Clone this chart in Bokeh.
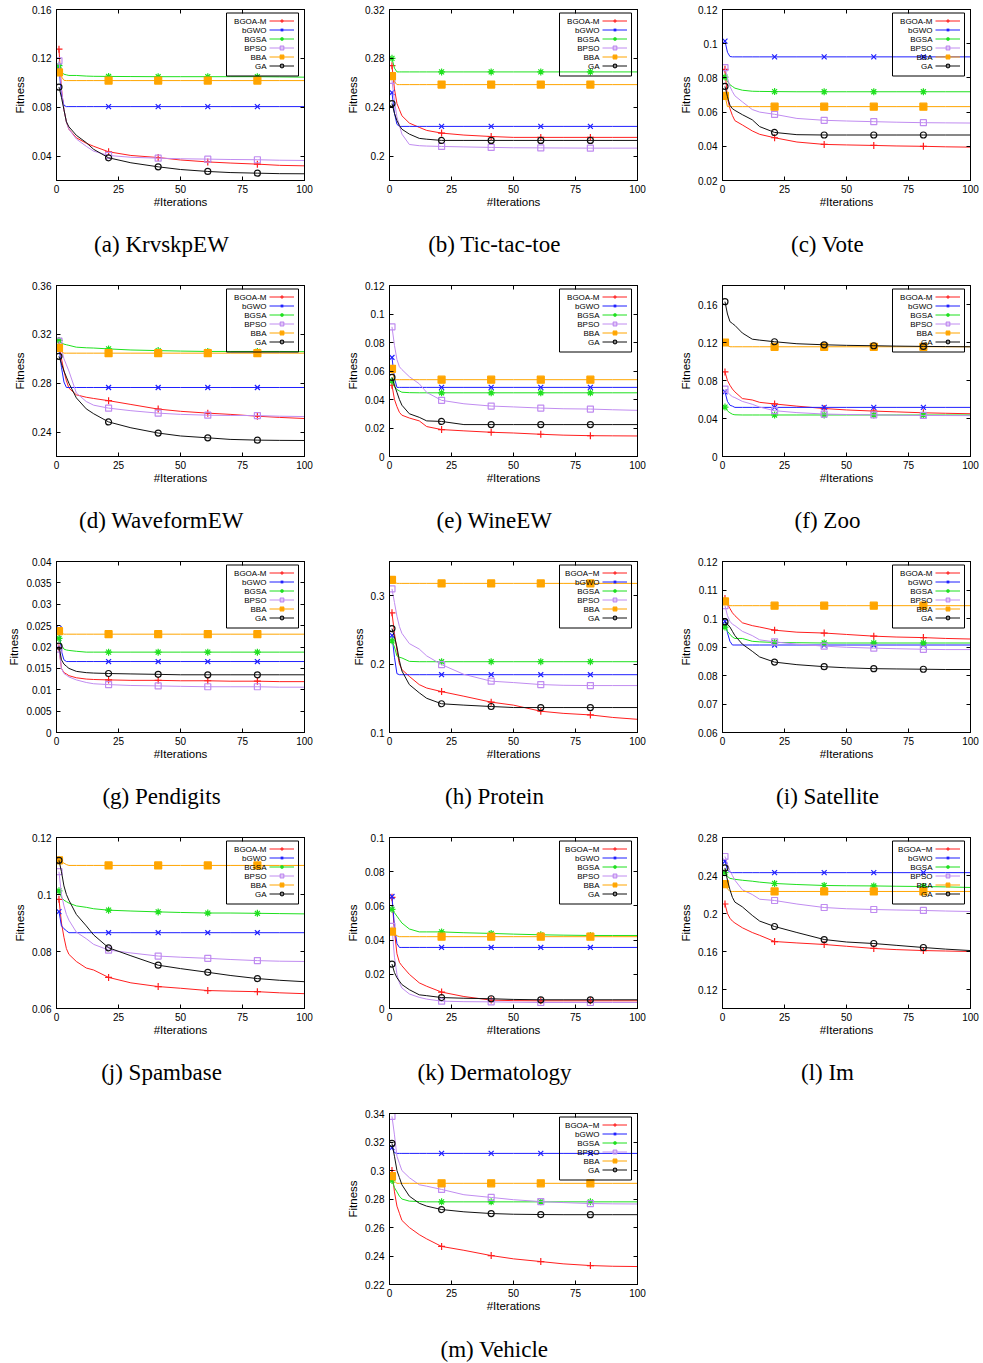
from bokeh.plotting import figure
from bokeh.models import (Range1d, FixedTicker, LinearAxis, Label, BoxAnnotation,
                          Legend, LegendItem, CustomJSTickFormatter, Spacer)
from bokeh.layouts import column, row
from bokeh.core.properties import value
from bokeh.embed import file_html
from bokeh.resources import INLINE

# ---------------- data ----------------
ITER = [1, 2, 3, 4, 5, 8, 12, 15, 21, 30, 41, 50, 61, 70, 81, 90, 100]
MARK_ITER = [1, 21, 41, 61, 81]
X_TICKS = [0, 25, 50, 75, 100]
SERIES = ["BGOA-M", "bGWO", "BGSA", "BPSO", "BBA", "GA"]
SERIES_ALT = ["BGOA\u2212M", "bGWO", "BGSA", "BPSO", "BBA", "GA"]

# (a) KrvskpEW
KRV_BGOA_M = [0.1275, 0.095, 0.078, 0.068, 0.062, 0.055, 0.0505, 0.048, 0.0435, 0.0405, 0.0388, 0.0368, 0.0352, 0.0343, 0.0334, 0.0324, 0.0320]
KRV_BGWO = [0.113, 0.090, 0.0815, 0.0805, 0.0805, 0.0805, 0.0805, 0.0805, 0.0805, 0.0805, 0.0805, 0.0805, 0.0805, 0.0805, 0.0805, 0.0805, 0.0805]
KRV_BGSA = [0.114, 0.109, 0.107, 0.1065, 0.106, 0.106, 0.1055, 0.1053, 0.1052, 0.1051, 0.105, 0.105, 0.105, 0.105, 0.105, 0.1048, 0.1046]
KRV_BPSO = [0.118, 0.095, 0.078, 0.068, 0.062, 0.054, 0.048, 0.044, 0.0405, 0.039, 0.0383, 0.0378, 0.0375, 0.0372, 0.037, 0.0366, 0.0364]
KRV_BBA = [0.1085, 0.105, 0.102, 0.1018, 0.1018, 0.1018, 0.1018, 0.1018, 0.1018, 0.1018, 0.1018, 0.1018, 0.1018, 0.1018, 0.1018, 0.1018, 0.1018]
KRV_GA = [0.0965, 0.088, 0.078, 0.068, 0.064, 0.057, 0.051, 0.0455, 0.0386, 0.0345, 0.0312, 0.029, 0.0274, 0.0265, 0.026, 0.0256, 0.0255]

# (b) Tic-tac-toe
TIC_BGOA_M = [0.274, 0.255, 0.243, 0.238, 0.233, 0.227, 0.2235, 0.221, 0.2188, 0.2172, 0.216, 0.2153, 0.2153, 0.2153, 0.2153, 0.2153, 0.2153]
TIC_BGWO = [0.252, 0.235, 0.226, 0.2243, 0.2243, 0.2243, 0.2243, 0.2243, 0.2243, 0.2243, 0.2243, 0.2243, 0.2243, 0.2243, 0.2243, 0.2243, 0.2243]
TIC_BGSA = [0.280, 0.272, 0.2689, 0.2689, 0.2689, 0.2689, 0.2689, 0.2689, 0.2689, 0.2689, 0.2689, 0.2689, 0.2689, 0.2689, 0.2689, 0.2689, 0.2689]
TIC_BPSO = [0.262, 0.245, 0.232, 0.225, 0.218, 0.2095, 0.2085, 0.2082, 0.2079, 0.2075, 0.2071, 0.2068, 0.2067, 0.2066, 0.2065, 0.2065, 0.2065]
TIC_BBA = [0.2655, 0.261, 0.2585, 0.2585, 0.2585, 0.2585, 0.2585, 0.2585, 0.2585, 0.2585, 0.2585, 0.2585, 0.2585, 0.2585, 0.2585, 0.2585, 0.2585]
TIC_GA = [0.243, 0.235, 0.229, 0.225, 0.222, 0.218, 0.2145, 0.2138, 0.2128, 0.2128, 0.2128, 0.2128, 0.2128, 0.2128, 0.2128, 0.2128, 0.2128]

# (c) Vote
VOTE_BGOA_M = [0.085, 0.068, 0.062, 0.058, 0.055, 0.0525, 0.049, 0.047, 0.045, 0.0425, 0.0411, 0.0408, 0.0405, 0.0402, 0.040, 0.0397, 0.0395]
VOTE_BGWO = [0.1015, 0.095, 0.0925, 0.0923, 0.0923, 0.0923, 0.0923, 0.0923, 0.0923, 0.0923, 0.0923, 0.0923, 0.0923, 0.0923, 0.0923, 0.0923, 0.0923]
VOTE_BGSA = [0.0805, 0.078, 0.076, 0.075, 0.074, 0.0728, 0.0722, 0.0721, 0.072, 0.0719, 0.0719, 0.0719, 0.0719, 0.0719, 0.0719, 0.0719, 0.0719]
VOTE_BPSO = [0.086, 0.080, 0.075, 0.072, 0.0695, 0.066, 0.0615, 0.060, 0.0587, 0.0563, 0.0552, 0.0548, 0.0544, 0.0541, 0.0538, 0.0537, 0.0536]
VOTE_BBA = [0.0695, 0.0632, 0.0632, 0.0632, 0.0632, 0.0632, 0.0632, 0.0632, 0.0632, 0.0632, 0.0632, 0.0632, 0.0632, 0.0632, 0.0632, 0.0632, 0.0632]
VOTE_GA = [0.075, 0.069, 0.064, 0.062, 0.061, 0.0585, 0.0555, 0.0515, 0.0481, 0.0468, 0.0466, 0.0466, 0.0466, 0.0466, 0.0466, 0.0466, 0.0466]

# (d) WaveformEW
WAVE_BGOA_M = [0.315, 0.300, 0.290, 0.282, 0.276, 0.2705, 0.2685, 0.2675, 0.2657, 0.2626, 0.2588, 0.257, 0.2555, 0.2545, 0.253, 0.252, 0.2511]
WAVE_BGWO = [0.310, 0.293, 0.281, 0.2765, 0.2765, 0.2765, 0.2765, 0.2765, 0.2765, 0.2765, 0.2765, 0.2765, 0.2765, 0.2765, 0.2765, 0.2765, 0.2765]
WAVE_BGSA = [0.315, 0.313, 0.312, 0.3115, 0.311, 0.3095, 0.309, 0.3088, 0.3081, 0.3072, 0.3067, 0.3063, 0.306, 0.306, 0.306, 0.306, 0.3058]
WAVE_BPSO = [0.3145, 0.308, 0.300, 0.295, 0.290, 0.272, 0.265, 0.262, 0.2596, 0.2575, 0.2555, 0.2545, 0.2538, 0.2536, 0.2535, 0.253, 0.2527]
WAVE_BBA = [0.309, 0.306, 0.3046, 0.3046, 0.3046, 0.3046, 0.3046, 0.3046, 0.3046, 0.3046, 0.3046, 0.3046, 0.3046, 0.3046, 0.3046, 0.3046, 0.3046]
WAVE_GA = [0.302, 0.296, 0.290, 0.285, 0.280, 0.268, 0.259, 0.255, 0.2483, 0.2435, 0.2392, 0.2368, 0.2353, 0.234, 0.2334, 0.2332, 0.2331]

# (e) WineEW
WINE_BGOA_M = [0.050, 0.040, 0.035, 0.031, 0.029, 0.027, 0.025, 0.021, 0.0189, 0.018, 0.017, 0.0165, 0.0156, 0.015, 0.0146, 0.0145, 0.0144]
WINE_BGWO = [0.0695, 0.055, 0.0485, 0.0485, 0.0485, 0.0485, 0.0485, 0.0485, 0.0485, 0.0485, 0.0485, 0.0485, 0.0485, 0.0485, 0.0485, 0.0485, 0.0485]
WINE_BGSA = [0.053, 0.049, 0.047, 0.046, 0.0451, 0.0448, 0.0447, 0.0447, 0.0447, 0.0447, 0.0447, 0.0447, 0.0447, 0.0447, 0.0447, 0.0447, 0.0447]
WINE_BPSO = [0.091, 0.078, 0.068, 0.063, 0.061, 0.056, 0.051, 0.045, 0.0394, 0.037, 0.0354, 0.0348, 0.034, 0.0335, 0.0333, 0.0328, 0.0324]
WINE_BBA = [0.0615, 0.0539, 0.0539, 0.0539, 0.0539, 0.0539, 0.0539, 0.0539, 0.0539, 0.0539, 0.0539, 0.0539, 0.0539, 0.0539, 0.0539, 0.0539, 0.0539]
WINE_GA = [0.0555, 0.050, 0.045, 0.040, 0.036, 0.030, 0.0275, 0.025, 0.0246, 0.0224, 0.0224, 0.0224, 0.0224, 0.0224, 0.0224, 0.0224, 0.0224]

# (f) Zoo
ZOO_BGOA_M = [0.089, 0.080, 0.075, 0.071, 0.068, 0.061, 0.0595, 0.057, 0.0553, 0.053, 0.0505, 0.049, 0.0478, 0.047, 0.046, 0.0455, 0.045]
ZOO_BGWO = [0.068, 0.058, 0.054, 0.053, 0.0517, 0.0517, 0.0517, 0.0517, 0.0517, 0.0517, 0.0517, 0.0517, 0.0517, 0.0517, 0.0517, 0.0517, 0.0517]
ZOO_BGSA = [0.052, 0.048, 0.046, 0.0445, 0.0439, 0.0437, 0.0437, 0.0437, 0.0437, 0.0437, 0.0437, 0.0437, 0.0437, 0.0437, 0.0437, 0.0437, 0.0437]
ZOO_BPSO = [0.071, 0.068, 0.065, 0.063, 0.062, 0.058, 0.055, 0.052, 0.0482, 0.0462, 0.0447, 0.0442, 0.0439, 0.0435, 0.0432, 0.0431, 0.043]
ZOO_BBA = [0.120, 0.117, 0.1155, 0.1155, 0.1155, 0.1155, 0.1155, 0.1155, 0.1155, 0.1155, 0.1155, 0.1155, 0.1155, 0.1155, 0.1155, 0.1155, 0.1155]
ZOO_GA = [0.163, 0.150, 0.142, 0.140, 0.138, 0.130, 0.1235, 0.1225, 0.1208, 0.1187, 0.1176, 0.117, 0.1166, 0.1162, 0.1159, 0.1157, 0.1155]

# (g) Pendigits
PEN_BGOA_M = [0.0198, 0.015, 0.014, 0.0137, 0.0133, 0.0128, 0.0125, 0.0124, 0.0123, 0.0122, 0.0122, 0.0121, 0.0121, 0.012, 0.012, 0.0119, 0.0119]
PEN_BGWO = [0.0243, 0.019, 0.017, 0.0166, 0.0166, 0.0166, 0.0166, 0.0166, 0.0166, 0.0166, 0.0166, 0.0166, 0.0166, 0.0166, 0.0166, 0.0166, 0.0166]
PEN_BGSA = [0.022, 0.0205, 0.0195, 0.0193, 0.0192, 0.019, 0.0188, 0.0188, 0.0188, 0.0188, 0.0188, 0.0188, 0.0188, 0.0188, 0.0188, 0.0188, 0.0188]
PEN_BPSO = [0.0195, 0.015, 0.0138, 0.0134, 0.013, 0.0123, 0.0117, 0.0114, 0.0112, 0.011, 0.0109, 0.0108, 0.0107, 0.0107, 0.0107, 0.0106, 0.0106]
PEN_BBA = [0.0237, 0.0233, 0.023, 0.023, 0.023, 0.023, 0.023, 0.023, 0.023, 0.023, 0.023, 0.023, 0.023, 0.023, 0.023, 0.023, 0.023]
PEN_GA = [0.0202, 0.017, 0.016, 0.0155, 0.015, 0.0143, 0.014, 0.0139, 0.0138, 0.0137, 0.0136, 0.0135, 0.0135, 0.0135, 0.0135, 0.0135, 0.0135]

# (h) Protein
PROT_BGOA_M = [0.275, 0.245, 0.220, 0.200, 0.192, 0.182, 0.170, 0.165, 0.1598, 0.153, 0.1444, 0.140, 0.1311, 0.128, 0.1257, 0.122, 0.1193]
PROT_BGWO = [0.242, 0.210, 0.186, 0.1845, 0.1845, 0.1845, 0.1845, 0.1845, 0.1845, 0.1845, 0.1845, 0.1845, 0.1845, 0.1845, 0.1845, 0.1845, 0.1845]
PROT_BGSA = [0.234, 0.225, 0.212, 0.210, 0.209, 0.204, 0.2035, 0.2035, 0.2035, 0.2035, 0.2035, 0.2035, 0.2035, 0.2035, 0.2035, 0.2035, 0.2035]
PROT_BPSO = [0.310, 0.290, 0.270, 0.255, 0.245, 0.230, 0.222, 0.212, 0.1993, 0.185, 0.175, 0.173, 0.1701, 0.169, 0.1686, 0.1686, 0.1686]
PROT_BBA = [0.323, 0.320, 0.318, 0.318, 0.318, 0.318, 0.318, 0.318, 0.318, 0.318, 0.318, 0.318, 0.318, 0.318, 0.318, 0.318, 0.318]
PROT_GA = [0.252, 0.240, 0.225, 0.205, 0.190, 0.170, 0.158, 0.150, 0.142, 0.140, 0.138, 0.1365, 0.1365, 0.1365, 0.1365, 0.1365, 0.1365]

# (i) Satellite
SAT_BGOA_M = [0.107, 0.105, 0.1035, 0.102, 0.101, 0.0985, 0.0975, 0.097, 0.0959, 0.0952, 0.0949, 0.0944, 0.0938, 0.0935, 0.0933, 0.093, 0.0928]
SAT_BGWO = [0.099, 0.095, 0.092, 0.0907, 0.0907, 0.0907, 0.0907, 0.0907, 0.0907, 0.0907, 0.0907, 0.0907, 0.0907, 0.0907, 0.0907, 0.0907, 0.0907]
SAT_BGSA = [0.097, 0.0955, 0.0945, 0.0935, 0.093, 0.093, 0.092, 0.0918, 0.0916, 0.0915, 0.0914, 0.0914, 0.0914, 0.0914, 0.0914, 0.0914, 0.0914]
SAT_BPSO = [0.1045, 0.101, 0.099, 0.098, 0.0975, 0.0955, 0.094, 0.0925, 0.0918, 0.091, 0.0903, 0.0899, 0.0896, 0.0894, 0.0892, 0.0891, 0.0891]
SAT_BBA = [0.106, 0.105, 0.1045, 0.1045, 0.1045, 0.1045, 0.1045, 0.1045, 0.1045, 0.1045, 0.1045, 0.1045, 0.1045, 0.1045, 0.1045, 0.1045, 0.1045]
SAT_GA = [0.0988, 0.098, 0.097, 0.0955, 0.094, 0.091, 0.0885, 0.0865, 0.0847, 0.0838, 0.0831, 0.0827, 0.0824, 0.0823, 0.0822, 0.0821, 0.0821]

# (j) Spambase
SPAM_BGOA_M = [0.0983, 0.090, 0.085, 0.081, 0.079, 0.0765, 0.0742, 0.0735, 0.0709, 0.069, 0.0677, 0.0671, 0.0663, 0.0661, 0.0659, 0.0655, 0.0652]
SPAM_BGWO = [0.094, 0.089, 0.088, 0.0873, 0.0866, 0.0866, 0.0866, 0.0866, 0.0866, 0.0866, 0.0866, 0.0866, 0.0866, 0.0866, 0.0866, 0.0866, 0.0866]
SPAM_BGSA = [0.1013, 0.099, 0.098, 0.0975, 0.097, 0.096, 0.0955, 0.095, 0.0945, 0.0942, 0.0939, 0.0937, 0.0935, 0.0935, 0.0934, 0.0933, 0.0932]
SPAM_BPSO = [0.108, 0.100, 0.096, 0.093, 0.091, 0.0868, 0.0845, 0.0825, 0.0805, 0.0795, 0.0784, 0.078, 0.0776, 0.0772, 0.0768, 0.0766, 0.0765]
SPAM_BBA = [0.112, 0.1115, 0.111, 0.1105, 0.1102, 0.1102, 0.1102, 0.1102, 0.1102, 0.1102, 0.1102, 0.1102, 0.1102, 0.1102, 0.1102, 0.1102, 0.1102]
SPAM_GA = [0.112, 0.108, 0.103, 0.100, 0.098, 0.093, 0.089, 0.0858, 0.0813, 0.0785, 0.0752, 0.074, 0.0727, 0.0716, 0.0705, 0.0699, 0.0694]

# (k) Dermatology
DERM_BGOA_M = [0.065, 0.045, 0.032, 0.027, 0.025, 0.020, 0.015, 0.013, 0.0096, 0.007, 0.0049, 0.0046, 0.0045, 0.0045, 0.0045, 0.0045, 0.0045]
DERM_BGWO = [0.0655, 0.048, 0.038, 0.0357, 0.0357, 0.0357, 0.0357, 0.0357, 0.0357, 0.0357, 0.0357, 0.0357, 0.0357, 0.0357, 0.0357, 0.0357, 0.0357]
DERM_BGSA = [0.058, 0.056, 0.054, 0.052, 0.050, 0.0465, 0.0448, 0.0448, 0.0448, 0.0443, 0.0439, 0.0435, 0.0431, 0.0429, 0.0427, 0.0427, 0.0427]
DERM_BPSO = [0.048, 0.030, 0.020, 0.015, 0.012, 0.0085, 0.0065, 0.0055, 0.0043, 0.004, 0.0039, 0.0037, 0.0035, 0.0035, 0.0035, 0.0035, 0.0035]
DERM_BBA = [0.045, 0.0435, 0.0425, 0.042, 0.042, 0.042, 0.042, 0.042, 0.042, 0.042, 0.042, 0.042, 0.042, 0.042, 0.042, 0.042, 0.042]
DERM_GA = [0.026, 0.021, 0.018, 0.016, 0.014, 0.011, 0.008, 0.0075, 0.0064, 0.006, 0.0057, 0.0053, 0.0051, 0.0051, 0.0051, 0.0051, 0.0051]

# (l) Im
IM_BGOA_M = [0.210, 0.200, 0.195, 0.192, 0.190, 0.185, 0.180, 0.177, 0.1705, 0.169, 0.1674, 0.1655, 0.1632, 0.162, 0.161, 0.1605, 0.160]
IM_BGWO = [0.255, 0.246, 0.2432, 0.243, 0.243, 0.243, 0.243, 0.243, 0.243, 0.243, 0.243, 0.243, 0.243, 0.243, 0.243, 0.243, 0.243]
IM_BGSA = [0.243, 0.239, 0.237, 0.2365, 0.236, 0.235, 0.234, 0.233, 0.2316, 0.2305, 0.2295, 0.2292, 0.229, 0.2287, 0.2284, 0.228, 0.2274]
IM_BPSO = [0.260, 0.252, 0.245, 0.240, 0.235, 0.225, 0.220, 0.215, 0.2137, 0.210, 0.2063, 0.205, 0.2042, 0.2037, 0.2032, 0.2026, 0.2021]
IM_BBA = [0.231, 0.226, 0.2232, 0.2232, 0.2232, 0.2232, 0.2232, 0.2232, 0.2232, 0.2232, 0.2232, 0.2232, 0.2232, 0.2232, 0.2232, 0.2232, 0.2232]
IM_GA = [0.248, 0.235, 0.225, 0.217, 0.212, 0.207, 0.198, 0.192, 0.1863, 0.180, 0.1726, 0.170, 0.1684, 0.1665, 0.1642, 0.1625, 0.161]

# (m) Vehicle
VEH_BGOA_M = [0.300, 0.285, 0.275, 0.270, 0.265, 0.260, 0.255, 0.252, 0.2467, 0.244, 0.2403, 0.238, 0.2361, 0.2345, 0.2333, 0.2328, 0.2326]
VEH_BGWO = [0.316, 0.3125, 0.312, 0.312, 0.312, 0.312, 0.312, 0.312, 0.312, 0.312, 0.312, 0.312, 0.312, 0.312, 0.312, 0.312, 0.312]
VEH_BGSA = [0.293, 0.288, 0.285, 0.282, 0.280, 0.2785, 0.2782, 0.278, 0.278, 0.278, 0.278, 0.278, 0.278, 0.278, 0.278, 0.278, 0.278]
VEH_BPSO = [0.338, 0.325, 0.310, 0.305, 0.300, 0.295, 0.290, 0.289, 0.2867, 0.283, 0.2811, 0.2795, 0.2782, 0.2775, 0.2768, 0.2766, 0.2765]
VEH_BBA = [0.296, 0.2925, 0.291, 0.291, 0.291, 0.291, 0.291, 0.291, 0.291, 0.291, 0.291, 0.291, 0.291, 0.291, 0.291, 0.291, 0.291]
VEH_GA = [0.319, 0.310, 0.300, 0.295, 0.290, 0.282, 0.277, 0.275, 0.2726, 0.271, 0.2698, 0.2693, 0.2691, 0.269, 0.269, 0.269, 0.269]

CAPTIONS = ["(a) KrvskpEW", "(b) Tic-tac-toe", "(c) Vote", "(d) WaveformEW", "(e) WineEW",
            "(f) Zoo", "(g) Pendigits", "(h) Protein", "(i) Satellite", "(j) Spambase",
            "(k) Dermatology", "(l) Im", "(m) Vehicle"]
Y_LIMITS = [(0.02, 0.16), (0.18, 0.32), (0.02, 0.12), (0.22, 0.36), (0.0, 0.12), (0.0, 0.18),
            (0.0, 0.04), (0.1, 0.35), (0.06, 0.12), (0.06, 0.12), (0.0, 0.1), (0.1, 0.28), (0.22, 0.34)]
Y_TICKS = [
    [0.04, 0.08, 0.12, 0.16],
    [0.2, 0.24, 0.28, 0.32],
    [0.02, 0.04, 0.06, 0.08, 0.1, 0.12],
    [0.24, 0.28, 0.32, 0.36],
    [0, 0.02, 0.04, 0.06, 0.08, 0.1, 0.12],
    [0, 0.04, 0.08, 0.12, 0.16],
    [0, 0.005, 0.01, 0.015, 0.02, 0.025, 0.03, 0.035, 0.04],
    [0.1, 0.2, 0.3],
    [0.06, 0.07, 0.08, 0.09, 0.1, 0.11, 0.12],
    [0.06, 0.08, 0.1, 0.12],
    [0, 0.02, 0.04, 0.06, 0.08, 0.1],
    [0.12, 0.16, 0.2, 0.24, 0.28],
    [0.22, 0.24, 0.26, 0.28, 0.3, 0.32, 0.34],
]
ALT_NAMES = [False, False, False, False, False, False, False, True, False, False, True, True, True]

PANELS = [
    [KRV_BGOA_M, KRV_BGWO, KRV_BGSA, KRV_BPSO, KRV_BBA, KRV_GA],
    [TIC_BGOA_M, TIC_BGWO, TIC_BGSA, TIC_BPSO, TIC_BBA, TIC_GA],
    [VOTE_BGOA_M, VOTE_BGWO, VOTE_BGSA, VOTE_BPSO, VOTE_BBA, VOTE_GA],
    [WAVE_BGOA_M, WAVE_BGWO, WAVE_BGSA, WAVE_BPSO, WAVE_BBA, WAVE_GA],
    [WINE_BGOA_M, WINE_BGWO, WINE_BGSA, WINE_BPSO, WINE_BBA, WINE_GA],
    [ZOO_BGOA_M, ZOO_BGWO, ZOO_BGSA, ZOO_BPSO, ZOO_BBA, ZOO_GA],
    [PEN_BGOA_M, PEN_BGWO, PEN_BGSA, PEN_BPSO, PEN_BBA, PEN_GA],
    [PROT_BGOA_M, PROT_BGWO, PROT_BGSA, PROT_BPSO, PROT_BBA, PROT_GA],
    [SAT_BGOA_M, SAT_BGWO, SAT_BGSA, SAT_BPSO, SAT_BBA, SAT_GA],
    [SPAM_BGOA_M, SPAM_BGWO, SPAM_BGSA, SPAM_BPSO, SPAM_BBA, SPAM_GA],
    [DERM_BGOA_M, DERM_BGWO, DERM_BGSA, DERM_BPSO, DERM_BBA, DERM_GA],
    [IM_BGOA_M, IM_BGWO, IM_BGSA, IM_BPSO, IM_BBA, IM_GA],
    [VEH_BGOA_M, VEH_BGWO, VEH_BGSA, VEH_BPSO, VEH_BBA, VEH_GA],
]

# ---------------- style / layout ----------------
COLORS = ["#ff1f1f", "#1f1fff", "#1fe01f", "#c08cf0", "#ffa500", "#111111"]
MARKERS = ["cross", "x", "asterisk", "square", "square", "circle"]
MSIZES = [7, 7, 7, 6, 7, 6]
FILLED = [False, False, False, False, True, False]
SANS = "Liberation Sans"
SERIF = "Liberation Serif"
FW, FH = 248, 171
LEFT_B = 56
CELL_W = 333
TOTAL_W = 982
CAP_CENTER = 161          # caption centre, px from cell's left edge


def style_axis(ax, show_labels):
    ax.major_tick_in = 4
    ax.major_tick_out = 0
    ax.minor_tick_line_color = None
    ax.axis_line_color = "black"
    ax.major_tick_line_color = "black"
    ax.major_label_text_font = SANS
    ax.axis_label_text_font = SANS
    ax.axis_label_text_font_size = "11.5px"
    ax.axis_label_text_font_style = "normal"
    ax.axis_label_text_color = "black"
    if show_labels:
        ax.major_label_text_color = "black"
        ax.major_label_text_font_size = "10px"
        ax.formatter = CustomJSTickFormatter(code="return String(tick);")
    else:
        ax.major_label_text_color = None
        ax.major_label_text_font_size = "1px"
        ax.major_label_standoff = 0


def make_panel(k, right_border):
    lo, hi = Y_LIMITS[k]
    p = figure(frame_width=FW, frame_height=FH,
               x_range=Range1d(0, 100), y_range=Range1d(lo, hi),
               output_backend="svg", toolbar_location=None,
               x_axis_type=None, y_axis_type=None,
               min_border_left=LEFT_B, min_border_right=right_border,
               min_border_top=9, min_border_bottom=33)
    p.outline_line_color = "black"
    p.outline_line_alpha = 1
    p.background_fill_color = "white"
    p.border_fill_color = "white"

    xb = LinearAxis(ticker=FixedTicker(ticks=X_TICKS), axis_label="#Iterations")
    style_axis(xb, True)
    xb.major_label_standoff = 4
    xb.axis_label_standoff = 0
    p.add_layout(xb, "below")

    yl = LinearAxis(ticker=FixedTicker(ticks=Y_TICKS[k]), axis_label="Fitness")
    style_axis(yl, True)
    yl.major_label_standoff = 5
    yl.axis_label_standoff = 3
    p.add_layout(yl, "left")

    xt = LinearAxis(ticker=FixedTicker(ticks=X_TICKS))
    style_axis(xt, False)
    p.add_layout(xt, "above")

    yr = LinearAxis(ticker=FixedTicker(ticks=Y_TICKS[k]))
    style_axis(yr, False)
    p.add_layout(yr, "right")

    names = SERIES_ALT if ALT_NAMES[k] else SERIES
    items = []
    for s in range(6):
        vals = PANELS[k][s]
        lr = p.line(ITER, vals, line_color=COLORS[s], line_width=1)
        mx = [x for x in ITER if x in MARK_ITER]
        my = [v for x, v in zip(ITER, vals) if x in MARK_ITER]
        sr = p.scatter(mx, my, marker=MARKERS[s], size=MSIZES[s],
                       line_color=COLORS[s], line_width=1.2,
                       fill_color=COLORS[s] if FILLED[s] else None)
        items.append(LegendItem(label=names[s], renderers=[lr, sr]))

    # gnuplot-style key: box, right-aligned texts, samples to the right
    box_top = FH - 3.5
    box = BoxAnnotation(left=170, right=242, top=box_top, bottom=box_top - 63,
                        left_units="screen", right_units="screen",
                        top_units="screen", bottom_units="screen",
                        fill_alpha=0, line_color="black", line_width=1, line_alpha=1)
    p.add_layout(box)
    first = box_top - 8
    leg = Legend(items=items, location=(213, first + 4.5 - 54),
                 label_text_font_size="1px", label_text_color=None,
                 label_width=0, label_height=9, label_standoff=0,
                 glyph_width=25, glyph_height=9, spacing=0, padding=0, margin=0,
                 border_line_color=None, background_fill_alpha=0)
    p.add_layout(leg)
    for s in range(6):
        p.add_layout(Label(x=210, y=first - 9 * s, x_units="screen", y_units="screen",
                           text=names[s], text_align="right", text_baseline="middle",
                           text_font=SANS, text_font_size="8px", text_color="black"))
    return p


def caption_strip(indices, cols, height, text_y):
    c = figure(width=TOTAL_W, height=height, x_range=Range1d(0, TOTAL_W),
               y_range=Range1d(0, height), output_backend="svg", toolbar_location=None,
               x_axis_type=None, y_axis_type=None,
               min_border=0, min_border_left=0, min_border_right=0,
               min_border_top=0, min_border_bottom=0)
    c.outline_line_color = None
    c.grid.visible = False
    c.text(x=[CELL_W * col + CAP_CENTER for col in cols], y=[text_y] * len(cols),
           text=[CAPTIONS[i] for i in indices],
           text_font=value(SERIF), text_font_size="23px", text_color="black",
           text_align="center", text_baseline="middle")
    return c


blocks = []
for r in range(4):
    figs = [make_panel(3 * r + c, 29 if c < 2 else 12) for c in range(3)]
    blocks.append(row(*figs, spacing=0))
    blocks.append(caption_strip([3 * r, 3 * r + 1, 3 * r + 2], [0, 1, 2], 63, 32))
last = make_panel(12, 29)
blocks.append(row(Spacer(width=CELL_W, height=213), last, spacing=0))
blocks.append(caption_strip([12], [1], 46, 14))
layout = column(*blocks, spacing=0)

open("out.html", "w").write(file_html(layout, INLINE, title="Fitness convergence"))
